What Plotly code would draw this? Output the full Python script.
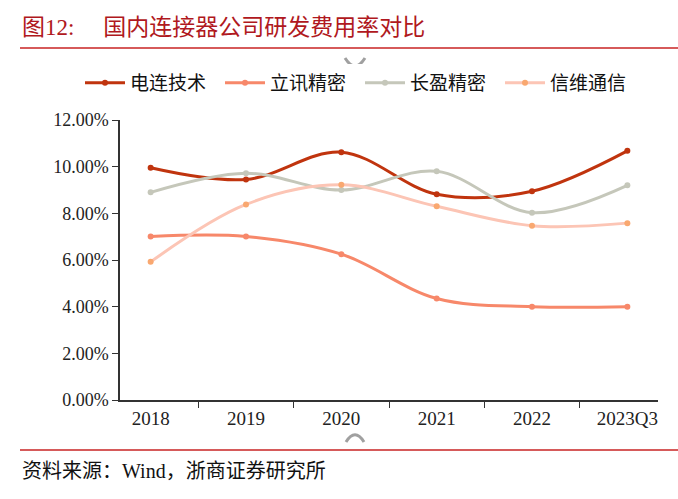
import plotly.graph_objects as go

categories = ["2018", "2019", "2020", "2021", "2022", "2023Q3"]
dianlian = [9.95, 9.45, 10.62, 8.82, 8.95, 10.68]
lixun = [7.01, 7.01, 6.25, 4.35, 4.0, 4.0]
changying = [8.9, 9.72, 9.0, 9.8, 8.03, 9.2]
xinwei = [5.92, 8.38, 9.22, 8.3, 7.47, 7.58]
series_names = ["电连技术", "立讯精密", "长盈精密", "信维通信"]
y_ticks = [0, 2, 4, 6, 8, 10, 12]

W, H = 678, 499
L, R, T, B = 120, 20, 120, 99
pw, ph = W - L - R, H - T - B

def px(x):
    return (x - L) / pw

def py(y):
    return (H - B - y) / ph

fig = go.Figure()
specs = [
    (dianlian, "#C0340E", "#C0340E"),
    (lixun, "#F7886A", "#F7886A"),
    (changying, "#C5C7BA", "#C5C7BA"),
    (xinwei, "#FCC5B5", "#F9A870"),
]
for name, (vals, lc, mc) in zip(series_names, specs):
    fig.add_trace(go.Scatter(
        x=categories, y=vals, name=name, mode="lines+markers",
        line=dict(color=lc, width=3, shape="spline", smoothing=1.0),
        marker=dict(color=mc, size=6),
    ))

fig.update_layout(
    width=W, height=H,
    margin=dict(l=L, r=R, t=T, b=B),
    paper_bgcolor="white", plot_bgcolor="white",
    showlegend=True,
    legend=dict(orientation="h", x=px(80), xanchor="left", y=py(83), yanchor="middle",
                font=dict(family="Noto Sans CJK SC", size=19, color="#111111"),
                itemwidth=40, entrywidth=85, entrywidthmode="pixels", tracegroupgap=0),
    font=dict(family="Liberation Serif, Noto Sans CJK SC", size=18, color="#222222"),
)
fig.update_xaxes(
    type="category", showline=True, linecolor="#333333", linewidth=1.5,
    ticks="outside", tickson="boundaries", ticklen=6, tickcolor="#333333",
    showgrid=False, tickfont=dict(family="Liberation Serif", size=19, color="#222222"),
)
fig.update_yaxes(
    range=[0, 12], tickvals=y_ticks, ticktext=[f"{v:.2f}%" for v in y_ticks],
    showline=True, linecolor="#333333", linewidth=1.5,
    ticks="outside", ticklen=6, tickcolor="#333333", showgrid=False, zeroline=False,
    tickfont=dict(family="Liberation Serif", size=18, color="#222222"),
)

fig.add_annotation(xref="paper", yref="paper", x=px(20), y=py(27), xanchor="left", yanchor="middle",
                   text="图12:&nbsp;&nbsp;&nbsp;&nbsp;&nbsp;国内连接器公司研发费用率对比", showarrow=False,
                   font=dict(family="Liberation Serif, Noto Sans CJK SC", size=23, color="#B01820"))
fig.add_shape(type="line", xref="paper", yref="paper", x0=px(20), x1=px(678), y0=py(48), y1=py(48),
              line=dict(color="#D65A5A", width=2))
fig.add_shape(type="line", xref="paper", yref="paper", x0=px(20), x1=px(678), y0=py(450), y1=py(450),
              line=dict(color="#D65A5A", width=2))
fig.add_annotation(xref="paper", yref="paper", x=px(20), y=py(471), xanchor="left", yanchor="middle",
                   text="资料来源：Wind，浙商证券研究所", showarrow=False,
                   font=dict(family="Liberation Serif, Noto Sans CJK SC", size=20, color="#111111"))

# faint grey arcs present in the source image
def arc_path(cx, cy, r, top):
    s = -1 if top else 1
    return f"M {px(cx - r)},{py(cy)} Q {px(cx)},{py(cy + s * r * 1.6)} {px(cx + r)},{py(cy)}"

fig.add_shape(type="path", xref="paper", yref="paper", path=arc_path(355, 58, 10, False),
              line=dict(color="#A0A0A0", width=3))
fig.add_shape(type="path", xref="paper", yref="paper", path=arc_path(355, 442, 9, True),
              line=dict(color="#A0A0A0", width=3))

fig.write_html("out.html", config={"displayModeBar": False},
               post_script="document.body.style.margin='0';")
